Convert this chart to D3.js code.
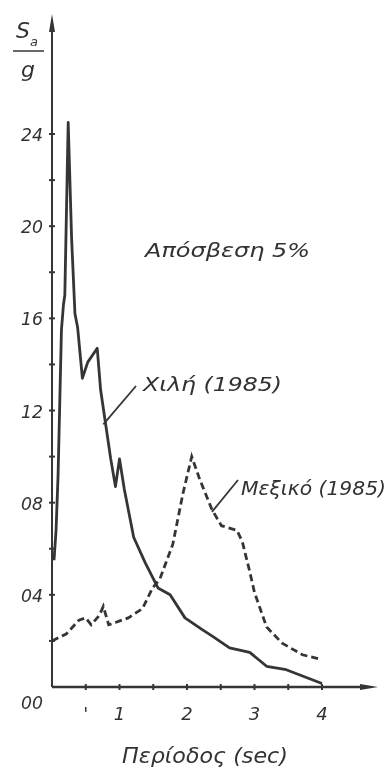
<!DOCTYPE html>
<html>
<head>
<meta charset="utf-8">
<script src="https://cdn.jsdelivr.net/npm/d3@7"></script>
<style>
  html, body { margin: 0; padding: 0; background: #fff; }
  svg { display: block; }
  text { font-family: "DejaVu Sans", sans-serif; font-style: italic; fill: #333; }
</style>
</head>
<body>
<svg id="chart" width="389" height="778"></svg>
<script>
// Chile 1985 (solid) : period (sec), Sa/g
var chileT = [0.03, 0.06, 0.09, 0.14, 0.17, 0.19, 0.24, 0.29, 0.34, 0.38, 0.45, 0.53, 0.67, 0.72, 0.79, 0.87, 0.94, 1.0, 1.07, 1.21, 1.38, 1.57, 1.75, 1.97, 2.22, 2.38, 2.63, 2.93, 3.18, 3.47, 4.0];
var chileS = [0.55, 0.68, 0.92, 1.55, 1.66, 1.70, 2.45, 1.95, 1.62, 1.56, 1.34, 1.41, 1.47, 1.29, 1.15, 0.99, 0.87, 0.99, 0.86, 0.65, 0.54, 0.43, 0.40, 0.30, 0.25, 0.22, 0.17, 0.15, 0.09, 0.075, 0.015];

// Mexico 1985 (dashed)
var mexicoT = [0.0, 0.21, 0.40, 0.50, 0.58, 0.70, 0.76, 0.84, 0.94, 1.13, 1.34, 1.49, 1.60, 1.79, 1.94, 2.07, 2.19, 2.37, 2.51, 2.74, 2.82, 2.93, 3.0, 3.18, 3.41, 3.71, 3.98];
var mexicoS = [0.20, 0.23, 0.29, 0.30, 0.27, 0.31, 0.35, 0.27, 0.28, 0.30, 0.34, 0.43, 0.47, 0.62, 0.84, 1.00, 0.90, 0.77, 0.70, 0.68, 0.63, 0.50, 0.41, 0.26, 0.19, 0.14, 0.12];

var xTicks = [0.5, 1, 1.5, 2, 2.5, 3, 3.5, 4];
var xLabels = [[0.5, "'"], [1, "1"], [2, "2"], [3, "3"], [4, "4"]];
var yTicks = [0.2, 0.4, 0.6, 0.8, 1.0, 1.2, 1.4, 1.6, 1.8, 2.0, 2.2, 2.4];
var yLabels = [[0.4, "04"], [0.8, "08"], [1.2, "12"], [1.6, "16"], [2.0, "20"], [2.4, "24"]];

var ink = "#353535";
var svg = d3.select("#chart");

var xScale = d3.scaleLinear().domain([0, 4]).range([52, 322]);
var yScale = d3.scaleLinear().domain([0, 2.4]).range([687, 134]);

svg.append("defs").append("filter")
    .attr("id", "soft")
    .append("feGaussianBlur")
    .attr("stdDeviation", 0.6);

var g = svg.append("g").attr("filter", "url(#soft)");

// axes
g.append("line")
    .attr("x1", xScale(0)).attr("y1", yScale(0))
    .attr("x2", xScale(0)).attr("y2", 24)
    .attr("stroke", ink).attr("stroke-width", 2);
g.append("path")
    .attr("d", "M" + xScale(0) + ",14 L" + (xScale(0) - 3) + ",32 L" + (xScale(0) + 3) + ",32 Z")
    .attr("fill", ink);

g.append("line")
    .attr("x1", xScale(0)).attr("y1", yScale(0))
    .attr("x2", 366).attr("y2", yScale(0))
    .attr("stroke", ink).attr("stroke-width", 2.5);
g.append("path")
    .attr("d", "M378," + yScale(0) + " L360," + (yScale(0) - 3) + " L360," + (yScale(0) + 3) + " Z")
    .attr("fill", ink);

g.selectAll(".xt")
    .data(xTicks)
    .enter()
    .append("line")
    .attr("x1", function(d) { return xScale(d); })
    .attr("x2", function(d) { return xScale(d); })
    .attr("y1", yScale(0) - 3)
    .attr("y2", yScale(0) + 3)
    .attr("stroke", ink).attr("stroke-width", 2);

g.selectAll(".yt")
    .data(yTicks)
    .enter()
    .append("line")
    .attr("x1", xScale(0) - 3)
    .attr("x2", xScale(0) + 3)
    .attr("y1", function(d) { return yScale(d); })
    .attr("y2", function(d) { return yScale(d); })
    .attr("stroke", ink).attr("stroke-width", 2);

g.selectAll(".xl")
    .data(xLabels)
    .enter()
    .append("text")
    .attr("x", function(d) { return xScale(d[0]); })
    .attr("y", yScale(0) + 33)
    .attr("text-anchor", "middle")
    .style("font-size", "18px")
    .text(function(d) { return d[1]; });

g.selectAll(".yl")
    .data(yLabels)
    .enter()
    .append("text")
    .attr("x", 43)
    .attr("y", function(d) { return yScale(d[0]) + 7; })
    .attr("text-anchor", "end")
    .attr("textLength", 22)
    .attr("lengthAdjust", "spacingAndGlyphs")
    .style("font-size", "18px")
    .text(function(d) { return d[1]; });

g.append("text")
    .attr("x", 43).attr("y", yScale(0) + 22)
    .attr("text-anchor", "end")
    .attr("textLength", 22)
    .attr("lengthAdjust", "spacingAndGlyphs")
    .style("font-size", "18px")
    .text("00");

// y title: Sa / g
g.append("text").attr("x", 16).attr("y", 38).style("font-size", "22px").text("S");
g.append("text").attr("x", 30).attr("y", 46).style("font-size", "13px").text("a");
g.append("line").attr("x1", 13).attr("y1", 51).attr("x2", 44).attr("y2", 51)
    .attr("stroke", ink).attr("stroke-width", 1.5);
g.append("text").attr("x", 21).attr("y", 77).style("font-size", "22px").text("g");

// x title
g.append("text")
    .attr("x", 122).attr("y", 763)
    .attr("textLength", 166)
    .attr("lengthAdjust", "spacingAndGlyphs")
    .style("font-size", "22px")
    .text("Περίοδος (sec)");

// curves
var line = d3.line()
    .x(function(d) { return xScale(d[0]); })
    .y(function(d) { return yScale(d[1]); })
    .curve(d3.curveLinear);

var chile = chileT.map(function(t, i) { return [t, chileS[i]]; });
var mexico = mexicoT.map(function(t, i) { return [t, mexicoS[i]]; });

g.append("path")
    .attr("d", line(chile))
    .attr("fill", "none")
    .attr("stroke", ink)
    .attr("stroke-width", 2.8)
    .attr("stroke-linejoin", "round");

g.append("path")
    .attr("d", line(mexico))
    .attr("fill", "none")
    .attr("stroke", ink)
    .attr("stroke-width", 2.8)
    .attr("stroke-dasharray", "7,4");

// annotations
g.append("text")
    .attr("x", 145).attr("y", 257)
    .attr("textLength", 165)
    .attr("lengthAdjust", "spacingAndGlyphs")
    .style("font-size", "20px")
    .text("Απόσβεση 5%");

g.append("line")
    .attr("x1", xScale(0.76)).attr("y1", yScale(1.14))
    .attr("x2", 136).attr("y2", 386)
    .attr("stroke", ink).attr("stroke-width", 1.8);
g.append("text")
    .attr("x", 143).attr("y", 391)
    .attr("textLength", 139)
    .attr("lengthAdjust", "spacingAndGlyphs")
    .style("font-size", "19px")
    .text("Χιλή (1985)");

g.append("line")
    .attr("x1", xScale(2.37)).attr("y1", yScale(0.76))
    .attr("x2", 238).attr("y2", 480)
    .attr("stroke", ink).attr("stroke-width", 1.8);
g.append("text")
    .attr("x", 241).attr("y", 495)
    .attr("textLength", 145)
    .attr("lengthAdjust", "spacingAndGlyphs")
    .style("font-size", "19px")
    .text("Μεξικό (1985)");
</script>
</body>
</html>
